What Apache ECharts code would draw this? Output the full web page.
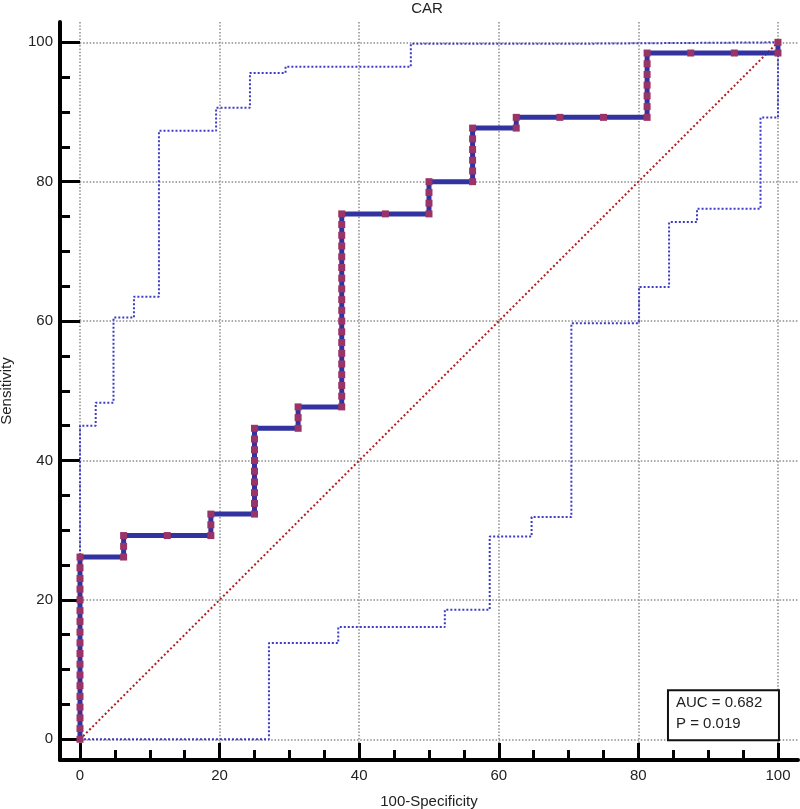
<!DOCTYPE html>
<html><head><meta charset="utf-8">
<script src="https://cdn.jsdelivr.net/npm/echarts@6/dist/echarts.min.js"></script>
<style>html,body{margin:0;padding:0;background:#fff}#c{width:800px;height:809px}</style>
</head><body><div id="c"></div>
<script>
// ---- text ----
const chartTitle = 'CAR';
const xName = '100-Specificity';
const yName = 'Sensitivity';
const statLines = ['AUC = 0.682', 'P = 0.019'];

// ---- ticks ----
const majorTicks = [0, 20, 40, 60, 80, 100];
const minorTicks = [5, 10, 15, 25, 30, 35, 45, 50, 55, 65, 70, 75, 85, 90, 95];

// ---- ROC curve (every threshold point) ----
const rocFpr = [
  0,0,0,0,0,0,0,0,0,0,0,0,0,0,0,0,0,0,
  6.25,6.25,6.25,
  12.5,
  18.75,18.75,18.75,
  25,25,25,25,25,25,25,25,25,
  31.25,31.25,31.25,
  37.5,37.5,37.5,37.5,37.5,37.5,37.5,37.5,37.5,37.5,37.5,37.5,37.5,37.5,37.5,37.5,37.5,37.5,37.5,
  43.75,
  50,50,50,50,
  56.25,56.25,56.25,56.25,56.25,56.25,
  62.5,62.5,
  68.75,
  75,
  81.25,81.25,81.25,81.25,81.25,81.25,81.25,
  87.5,
  93.75,
  100,100
];
const rocSens = [
  0,1.54,3.08,4.62,6.15,7.69,9.23,10.77,12.31,13.85,15.38,16.92,18.46,20.00,21.54,23.08,24.62,26.15,
  26.15,27.69,29.23,
  29.23,
  29.23,30.77,32.31,
  32.31,33.85,35.38,36.92,38.46,40.00,41.54,43.08,44.62,
  44.62,46.15,47.69,
  47.69,49.23,50.77,52.31,53.85,55.38,56.92,58.46,60.00,61.54,63.08,64.62,66.15,67.69,69.23,70.77,72.31,73.85,75.38,
  75.38,
  75.38,76.92,78.46,80.00,
  80.00,81.54,83.08,84.62,86.15,87.69,
  87.69,89.23,
  89.23,
  89.23,
  89.23,90.77,92.31,93.85,95.38,96.92,98.46,
  98.46,
  98.46,
  98.46,100
];

// ---- confidence bounds (step points) ----
const upperFpr  = [0, 0, 2.25, 4.8, 7.73, 11.31, 19.5, 24.35, 29.45, 47.4, 72.8, 100];
const upperSens = [0, 45.0, 48.3, 60.5, 63.5, 87.3, 90.6, 95.6, 96.5, 99.8, 100, 100];
const lowerFpr  = [0, 27.07, 37.0, 52.27, 58.7, 64.7, 70.4, 80.1, 84.4, 88.4, 97.5, 100];
const lowerSens = [0, 13.8, 16.1, 18.6, 29.1, 31.9, 59.7, 64.9, 74.2, 76.1, 89.2, 100];

// ---- reference diagonal ----
const diagFpr = [0, 100];
const diagSens = [0, 100];

const FONT = '"Liberation Sans", Arial, sans-serif';
const TXT = '#222';
const pairs = (a, b) => a.map((v, i) => [v, b[i]]);

const X_MIN = -2.865, X_MAX = 102.87, Y_MIN = -2.97, Y_MAX = 102.91;

const chart = echarts.init(document.getElementById('c'), null, {renderer: 'canvas'});

const gridLine = {show: true, lineStyle: {color: '#8c8c8c', width: 1.5, type: [1.5, 1.8]}};

chart.setOption({
  animation: false,
  backgroundColor: '#fff',
  title: {
    text: chartTitle, left: 422, top: -4, textAlign: 'center',
    textStyle: {fontSize: 15, fontWeight: 'normal', color: TXT, fontFamily: FONT}
  },
  grid: {left: 60, right: 2, top: 22, bottom: 49, containLabel: false, outerBoundsMode: 'none'},
  xAxis: [
    {
      type: 'value', min: X_MIN, max: X_MAX, position: 'bottom',
      name: xName, nameLocation: 'middle', nameGap: 34,
      nameTextStyle: {fontSize: 15, color: TXT, fontFamily: FONT},
      axisLine: {show: true, onZero: false, lineStyle: {color: '#000', width: 4}},
      axisTick: {show: true, inside: true, length: 17, customValues: majorTicks, lineStyle: {color: '#000', width: 3}},
      axisLabel: {show: true, customValues: majorTicks, margin: 8, fontSize: 15, color: TXT, fontFamily: FONT},
      splitLine: gridLine
    },
    {
      type: 'value', min: X_MIN, max: X_MAX, position: 'bottom',
      axisLine: {show: false, onZero: false},
      axisTick: {show: true, inside: true, length: 10, customValues: minorTicks, lineStyle: {color: '#000', width: 3}},
      axisLabel: {show: false},
      splitLine: {show: false}
    }
  ],
  yAxis: [
    {
      type: 'value', min: Y_MIN, max: Y_MAX, position: 'left',
      name: yName, nameLocation: 'middle', nameGap: 46, nameRotate: 90,
      nameTextStyle: {fontSize: 15, color: TXT, fontFamily: FONT},
      axisLine: {show: true, onZero: false, lineStyle: {color: '#000', width: 4}},
      axisTick: {show: true, inside: true, length: 20, customValues: majorTicks, lineStyle: {color: '#000', width: 3}},
      axisLabel: {show: true, customValues: majorTicks, margin: 7, fontSize: 15, color: TXT, fontFamily: FONT},
      splitLine: gridLine
    },
    {
      type: 'value', min: Y_MIN, max: Y_MAX, position: 'left',
      axisLine: {show: false, onZero: false},
      axisTick: {show: true, inside: true, length: 10, customValues: minorTicks, lineStyle: {color: '#000', width: 3}},
      axisLabel: {show: false},
      splitLine: {show: false}
    }
  ],
  series: [
    {
      name: 'diagonal', type: 'line', data: pairs(diagFpr, diagSens),
      showSymbol: false, lineStyle: {color: '#b02020', width: 2, type: [2, 2.4]}, z: 2
    },
    {
      name: 'upper', type: 'line', step: 'end', data: pairs(upperFpr, upperSens),
      showSymbol: false, lineStyle: {color: '#3c3cc8', width: 2, type: [2, 2]}, z: 3
    },
    {
      name: 'lower', type: 'line', step: 'end', data: pairs(lowerFpr, lowerSens),
      showSymbol: false, lineStyle: {color: '#3c3cc8', width: 2, type: [2, 2]}, z: 3
    },
    {
      name: 'ROC', type: 'line', data: pairs(rocFpr, rocSens),
      showSymbol: true, showAllSymbol: true, symbol: 'rect', symbolSize: [7, 7],
      itemStyle: {color: '#9a3366', borderWidth: 0},
      lineStyle: {color: '#3232a0', width: 5},
      z: 5
    }
  ]
});

// statistics box anchored at the (100, 0) corner of the plot
const corner = chart.convertToPixel({gridIndex: 0}, [100, 0]);
const boxW = 111, boxH = 50;
chart.setOption({
  graphic: [{
    type: 'group', left: corner[0] - boxW, top: corner[1] - boxH, z: 100,
    children: [
      {type: 'rect', shape: {x: 0, y: 0, width: boxW, height: boxH},
       style: {fill: '#fff', stroke: '#111', lineWidth: 2}},
      {type: 'text', x: 8, y: 13, style: {text: statLines[0], fontSize: 15, fill: TXT, fontFamily: FONT, verticalAlign: 'middle'}},
      {type: 'text', x: 8, y: 34, style: {text: statLines[1], fontSize: 15, fill: TXT, fontFamily: FONT, verticalAlign: 'middle'}}
    ]
  }]
});
</script>
</body></html>
